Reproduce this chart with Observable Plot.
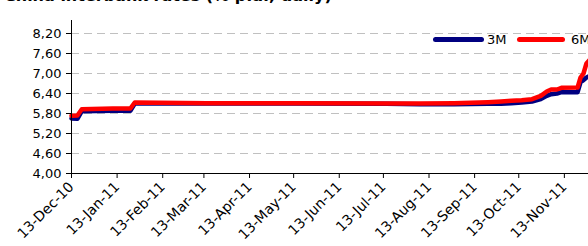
<!DOCTYPE html>
<html>
<head>
<meta charset="utf-8">
<script src="https://cdn.jsdelivr.net/npm/d3@7"></script>
<script src="https://cdn.jsdelivr.net/npm/@observablehq/plot@0.6"></script>
<style>
  html, body { margin: 0; padding: 0; background: #fff; width: 588px; height: 246px; overflow: hidden; }
  #wrap { position: relative; width: 588px; height: 246px; overflow: hidden; }
  #title { position: absolute; left: 4px; top: -12px; font: bold 16px/16px "DejaVu Sans", sans-serif; color: #000; white-space: nowrap; }
  #chart { position: absolute; left: 0; top: 0; width: 640px; }
  #chart svg { max-width: none !important; }
  .leg { position: absolute; font: 13px/13px "DejaVu Sans", sans-serif; color: #000; }
  .bar { position: absolute; height: 5px; border-radius: 3px; }
</style>
</head>
<body>
<div id="wrap">
  <div id="chart"></div>
  <div id="title">China interbank rates (% p.a., daily)</div>
  <div class="bar" style="left:433px; top:37px; width:51px; background:#000080;"></div>
  <div class="leg" style="left:487px; top:33px;">3M</div>
  <div class="bar" style="left:517px; top:37px; width:48px; background:#ff0000;"></div>
  <div class="leg" style="left:571px; top:33px;">6M</div>
</div>
<script>
// ---- data ----
const dates = [
  "2010-12-13","2010-12-17","2010-12-20","2011-01-10","2011-01-22","2011-01-25",
  "2011-03-15","2011-05-15","2011-07-15","2011-08-07","2011-08-30","2011-09-22",
  "2011-10-01","2011-10-08","2011-10-15","2011-10-22","2011-10-28","2011-11-01",
  "2011-11-04","2011-11-08","2011-11-11","2011-11-22","2011-11-24","2011-11-26",
  "2011-11-28","2011-11-30"
];
const rate3M = [
  5.65, 5.64, 5.87, 5.88, 5.88, 6.10,
  6.10, 6.10, 6.09, 6.08, 6.08, 6.09,
  6.09, 6.11, 6.13, 6.16, 6.23, 6.33,
  6.38, 6.40, 6.44, 6.44, 6.74, 6.80,
  6.88, 6.92
];
const rate6M = [
  5.73, 5.74, 5.93, 5.95, 5.95, 6.13,
  6.11, 6.11, 6.10, 6.10, 6.11, 6.14,
  6.16, 6.18, 6.20, 6.23, 6.33, 6.46,
  6.52, 6.52, 6.57, 6.58, 6.88, 7.00,
  7.30, 7.40
];
const yTicks = [4.0, 4.6, 5.2, 5.8, 6.4, 7.0, 7.6, 8.2];
const xTickDates = [
  "2010-12-13","2011-01-13","2011-02-13","2011-03-13","2011-04-13","2011-05-13",
  "2011-06-13","2011-07-13","2011-08-13","2011-09-13","2011-10-13","2011-11-13"
];
const xDomain = ["2010-12-13", "2011-12-13"];

// ---- build ----
const parse = d3.utcParse("%Y-%m-%d");
const rows3 = dates.map((d, i) => ({date: parse(d), v: rate3M[i]}));
const rows6 = dates.map((d, i) => ({date: parse(d), v: rate6M[i]}));
const xt = xTickDates.map(parse);
const fmtX = d3.utcFormat("%d-%b-%y");
const fmtY = d => d.toFixed(2).replace(".", ",");

const chart = Plot.plot({
  width: 640,
  height: 246,
  marginLeft: 71,
  marginRight: 32,
  marginTop: 20,
  marginBottom: 73,
  style: {fontFamily: "DejaVu Sans, sans-serif", fontSize: "13px", color: "#000", background: "#fff", overflow: "visible", maxWidth: "none"},
  x: {type: "utc", domain: xDomain.map(parse)},
  y: {domain: [4, 8.59]},
  marks: [
    Plot.ruleY(yTicks.filter(t => t > 4), {stroke: "#c0c0c0", strokeWidth: 1, strokeDasharray: "8,5"}),
    Plot.lineY(rows3, {x: "date", y: "v", stroke: "#000080", strokeWidth: 4.5, strokeLinejoin: "round"}),
    Plot.lineY(rows6, {x: "date", y: "v", stroke: "#ff0000", strokeWidth: 4.5, strokeLinejoin: "round"}),
    Plot.ruleY([4], {stroke: "#000", strokeWidth: 1}),
    Plot.ruleX([parse(xDomain[0])], {stroke: "#000", strokeWidth: 1}),
    Plot.axisY({ticks: yTicks, tickFormat: fmtY, tickSize: 5, tickPadding: 5, label: null, stroke: "#000"}),
    Plot.axisX({ticks: xt, tickFormat: fmtX, tickSize: 5, tickPadding: 6, tickRotate: -45, label: null, stroke: "#000", fontSize: 14})
  ]
});
document.getElementById("chart").appendChild(chart);
</script>
</body>
</html>
